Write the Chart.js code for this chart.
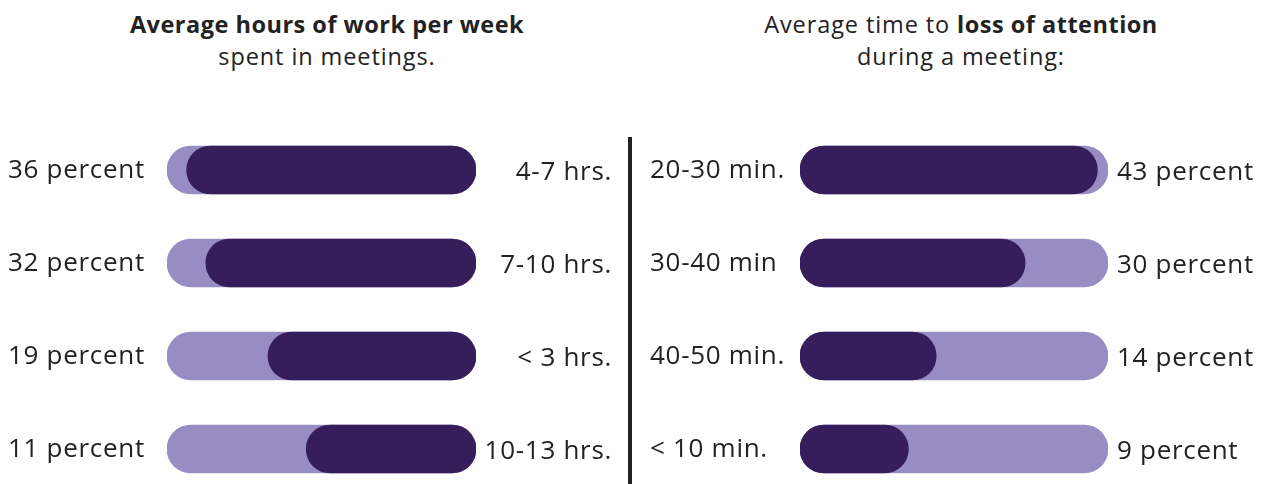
<!DOCTYPE html>
<html>
<head>
<meta charset="utf-8">
<script src="https://cdn.jsdelivr.net/npm/chart.js@4.4.1/dist/chart.umd.min.js"></script>
<style>
  html, body { margin: 0; padding: 0; background: #fff; }
  #wrap { position: relative; width: 1271px; height: 484px; overflow: hidden;
          font-family: "Open Sans", sans-serif; color: #222; }
  .title { position: absolute; top: 8px; text-align: center; font-size: 23.5px; line-height: 32px; letter-spacing: 0.9px; }
  .title b { font-weight: 700; letter-spacing: 0.5px; }
  #divider { position: absolute; left: 628px; top: 137px; width: 4px; height: 347px; background: #222; }
  canvas { position: absolute; top: 0; }
</style>
</head>
<body>
<div id="wrap">
  <div class="title" style="left:27px;width:600px"><b>Average hours of work per week</b><br>spent in meetings.</div>
  <div class="title" style="left:661px;width:600px">Average time to <b>loss of attention</b><br>during a meeting:</div>
  <div id="divider"></div>
  <canvas id="hoursChart" width="630" height="520" style="left:0"></canvas>
  <canvas id="attentionChart" width="641" height="520" style="left:630px"></canvas>
</div>
<script>
// Left panel: hours per week spent in meetings
const hoursLabels = ['4-7 hrs.', '7-10 hrs.', '< 3 hrs.', '10-13 hrs.'];
const hoursShares = [36, 32, 19, 11];

// Right panel: time until attention is lost
const attentionLabels = ['20-30 min.', '30-40 min', '40-50 min.', '< 10 min.'];
const attentionShares = [43, 30, 14, 9];

// axis ranges (the graphic's bars start from a common stub, not from zero)
const hoursRange = [-24.5, 40.1];
const attentionRange = [-10.5, 44.9];

const DARK = '#361d5b';
const LIGHT = '#978dc3';

// draws the text to either side of each bar
const rowLabels = {
  id: 'rowLabels',
  afterDatasetsDraw(chart, args, opts) {
    const { ctx, scales: { y } } = chart;
    ctx.save();
    ctx.font = '26px "Open Sans", sans-serif';
    ctx.letterSpacing = '0.7px';
    ctx.fillStyle = '#222';
    ctx.textBaseline = 'middle';
    opts.left.forEach((t, i) => {
      ctx.textAlign = opts.leftAlign;
      ctx.fillText(t, opts.leftX, y.getPixelForValue(i) + 1);
    });
    opts.right.forEach((t, i) => {
      ctx.textAlign = opts.rightAlign;
      ctx.fillText(t, opts.rightX, y.getPixelForValue(i) + 3);
    });
    ctx.restore();
  }
};

function makeChart(id, labels, shares, range, reverse, padding, labelOpts) {
  return new Chart(document.getElementById(id), {
    type: 'bar',
    data: {
      labels: labels,
      datasets: [
        {
          data: shares,
          base: range[0],
          backgroundColor: DARK,
          borderRadius: 24,
          borderSkipped: false,
          barThickness: 48,
          grouped: false
        },
        {
          data: labels.map(() => range),
          backgroundColor: LIGHT,
          borderRadius: 24,
          borderSkipped: false,
          barThickness: 48,
          grouped: false
        }
      ]
    },
    options: {
      indexAxis: 'y',
      responsive: false,
      animation: false,
      layout: { padding: padding },
      scales: {
        x: { display: false, min: range[0], max: range[1], reverse: reverse },
        y: { display: false }
      },
      plugins: {
        legend: { display: false },
        tooltip: { enabled: false },
        rowLabels: labelOpts
      }
    },
    plugins: [rowLabels]
  });
}

makeChart('hoursChart', hoursLabels, hoursShares, hoursRange, true,
  { left: 167, right: 154, top: 123.5, bottom: 24.5 },
  {
    left: hoursShares.map(v => v + ' percent'), leftX: 8, leftAlign: 'left',
    right: hoursLabels, rightX: 612, rightAlign: 'right'
  });

makeChart('attentionChart', attentionLabels, attentionShares, attentionRange, false,
  { left: 170, right: 163, top: 123.5, bottom: 24.5 },
  {
    left: attentionLabels, leftX: 20, leftAlign: 'left',
    right: attentionShares.map(v => v + ' percent'), rightX: 487, rightAlign: 'left'
  });
</script>
</body>
</html>
